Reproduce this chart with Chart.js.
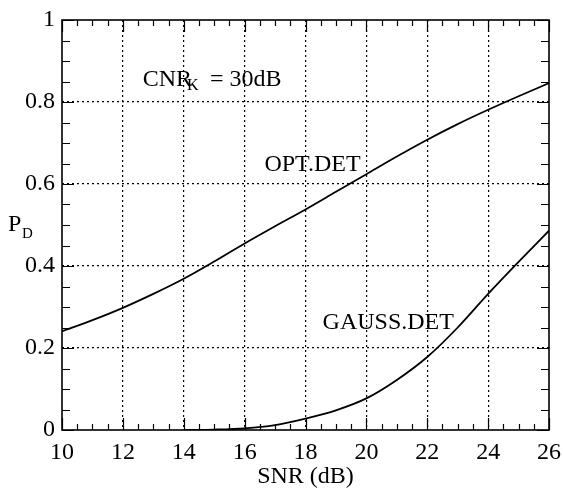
<!DOCTYPE html>
<html>
<head>
<meta charset="utf-8">
<script src="https://cdn.jsdelivr.net/npm/chart.js@4"></script>
<style>
  html, body { margin: 0; padding: 0; background: #fff; }
  #chart { display: block; }
</style>
</head>
<body>
<canvas id="chart" width="563" height="493"></canvas>
<script>
// Courbes (SNR en dB, P_D)
const optSnr = [10, 11, 12, 13, 14, 15, 16, 17, 18, 19, 20, 21, 22, 23, 24, 25, 26];
const optPd = [0.241, 0.268, 0.298, 0.332, 0.369, 0.411, 0.455, 0.497, 0.538, 0.581, 0.624, 0.667, 0.708, 0.746, 0.781, 0.814, 0.846];
const gaussSnr = [14, 15, 16, 17, 18, 19, 20, 21, 22, 23, 24, 25, 26];
const gaussPd = [0, 0.001, 0.004, 0.012, 0.028, 0.048, 0.077, 0.122, 0.178, 0.25, 0.332, 0.41, 0.486];

// Axes
const snrMin = 10, snrMax = 26, snrMajor = 2, snrMinor = 0.5;
const pdMin = 0, pdMax = 1, pdMajor = 0.2, pdMinor = 0.05;

const FONT = "'Liberation Serif', 'Times New Roman', serif";

const isMajor = (v, step) => Math.abs(v / step - Math.round(v / step)) < 1e-6;

// grille pointillée seulement sur les graduations principales intérieures
const gridColor = (min, max, step) => ctx => {
  const v = ctx.tick ? ctx.tick.value : null;
  if (v === null) return 'transparent';
  if (!isMajor(v, step)) return 'transparent';
  if (Math.abs(v - min) < 1e-6 || Math.abs(v - max) < 1e-6) return 'transparent';
  return '#000';
};

// cadre + graduations vers l'intérieur sur les 4 côtés
const framePlugin = {
  id: 'frame',
  afterDatasetsDraw(chart) {
    const { ctx, chartArea: a, scales: { x, y } } = chart;
    ctx.save();
    ctx.strokeStyle = '#000';
    ctx.lineWidth = 1.2;
    x.ticks.forEach(t => {
      const px = Math.round(x.getPixelForValue(t.value)) + 0.5;
      const len = isMajor(t.value, snrMajor) ? 12 : 6;
      ctx.beginPath();
      ctx.moveTo(px, a.bottom); ctx.lineTo(px, a.bottom - len);
      ctx.moveTo(px, a.top); ctx.lineTo(px, a.top + len);
      ctx.stroke();
    });
    y.ticks.forEach(t => {
      const py = Math.round(y.getPixelForValue(t.value)) + 0.5;
      const len = isMajor(t.value, pdMajor) ? 12 : 8;
      ctx.beginPath();
      ctx.moveTo(a.left, py); ctx.lineTo(a.left + len, py);
      ctx.moveTo(a.right, py); ctx.lineTo(a.right - len, py);
      ctx.stroke();
    });
    ctx.lineWidth = 1.6;
    ctx.strokeRect(a.left, a.top, a.right - a.left, a.bottom - a.top);
    ctx.restore();
  }
};

// textes dans le graphique (avec indices)
const labelsPlugin = {
  id: 'labels',
  afterDraw(chart) {
    const { ctx, scales: { x, y } } = chart;
    ctx.save();
    ctx.fillStyle = '#000';
    ctx.textBaseline = 'alphabetic';
    ctx.textAlign = 'left';
    ctx.font = '24px ' + FONT;

    // CNR_K = 30dB
    let px = x.getPixelForValue(12.65), py = y.getPixelForValue(0.84);
    ctx.fillText('CNR', px, py);
    const w = ctx.measureText('CNR').width;
    ctx.font = '16px ' + FONT;
    ctx.fillText('K', px + w - 5, py + 4);
    ctx.font = '24px ' + FONT;
    ctx.fillText('= 30dB', px + w + 18, py);

    ctx.fillText('OPT.DET', x.getPixelForValue(16.65), y.getPixelForValue(0.631));
    ctx.fillText('GAUSS.DET', x.getPixelForValue(18.56), y.getPixelForValue(0.246));

    // P_D
    ctx.fillText('P', 8, 231);
    ctx.font = '15px ' + FONT;
    ctx.fillText('D', 22, 238);
    ctx.restore();
  }
};

const toPoints = (xs, ys) => xs.map((v, i) => ({ x: v, y: ys[i] }));

new Chart(document.getElementById('chart'), {
  type: 'line',
  data: {
    datasets: [
      { label: 'OPT.DET', data: toPoints(optSnr, optPd) },
      { label: 'GAUSS.DET', data: toPoints(gaussSnr, gaussPd) }
    ]
  },
  options: {
    responsive: false,
    animation: false,
    layout: { padding: { left: 0, right: 14, top: 20, bottom: 0 } },
    elements: {
      line: { borderColor: '#000', borderWidth: 1.8, cubicInterpolationMode: 'monotone', fill: false },
      point: { radius: 0 }
    },
    plugins: { legend: { display: false }, tooltip: { enabled: false } },
    scales: {
      x: {
        type: 'linear', min: snrMin, max: snrMax,
        afterFit(scale) { scale.height = 63; scale.paddingLeft = 0; scale.paddingRight = 0; },
        ticks: {
          stepSize: snrMinor, autoSkip: false, maxRotation: 0, padding: 8,
          color: '#000', font: { family: FONT, size: 24 },
          callback: v => (isMajor(v, snrMajor) ? String(Math.round(v)) : '')
        },
        grid: { drawTicks: false, lineWidth: 1.2, color: gridColor(snrMin, snrMax, snrMajor) },
        border: { display: false, dash: [2, 3] },
        title: { display: true, text: 'SNR (dB)', color: '#000', font: { family: FONT, size: 24 }, padding: { top: 0, bottom: 2 } }
      },
      y: {
        type: 'linear', min: pdMin, max: pdMax,
        afterFit(scale) { scale.width = 62; scale.paddingTop = 0; scale.paddingBottom = 0; },
        ticks: {
          stepSize: pdMinor, autoSkip: false, padding: 7,
          color: '#000', font: { family: FONT, size: 24 },
          callback: v => (isMajor(v, pdMajor) ? String(Math.round(v * 10) / 10) : '')
        },
        grid: { drawTicks: false, lineWidth: 1.2, color: gridColor(pdMin, pdMax, pdMajor) },
        border: { display: false, dash: [2, 3] }
      }
    }
  },
  plugins: [framePlugin, labelsPlugin]
});
</script>
</body>
</html>
